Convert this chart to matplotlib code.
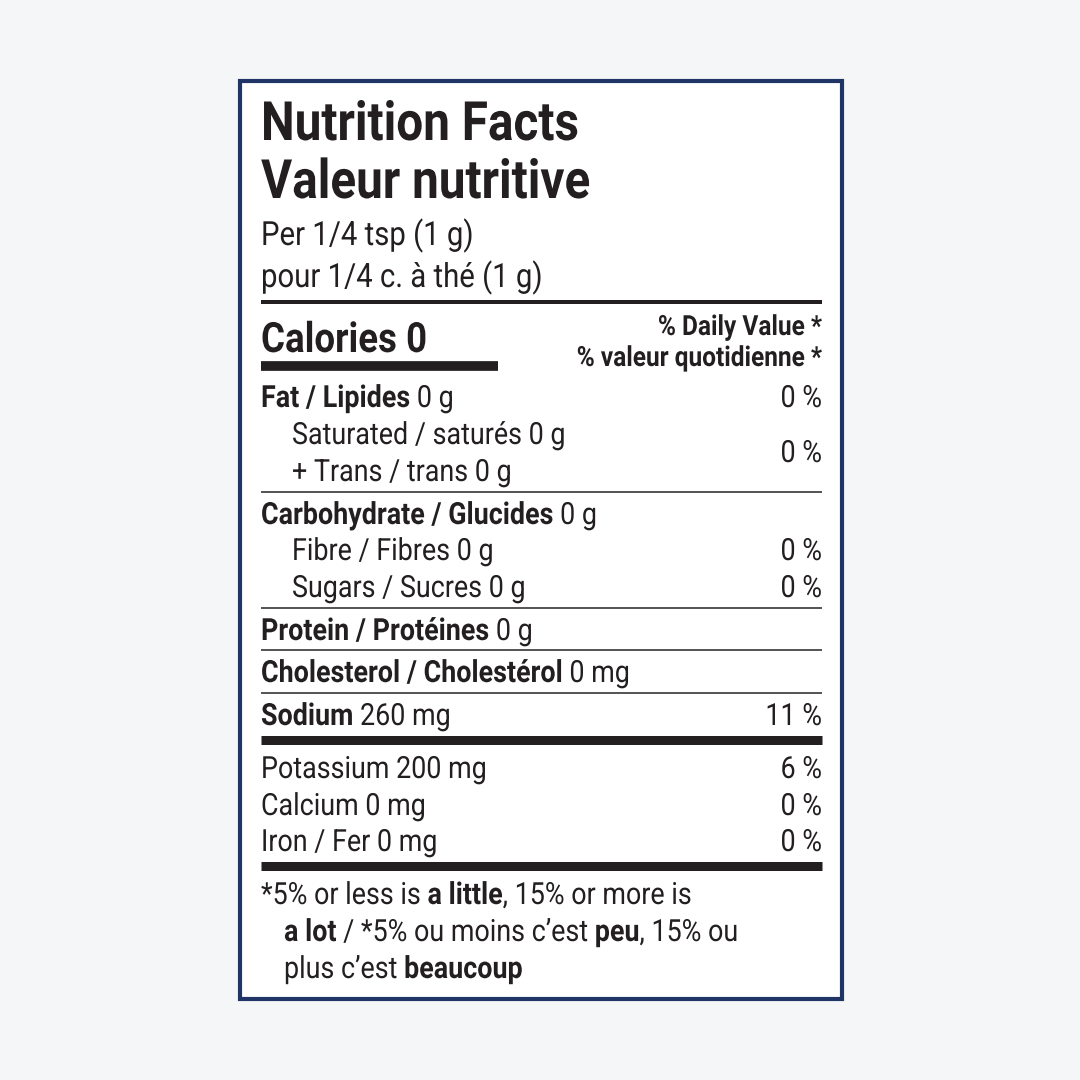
import matplotlib
matplotlib.use("Agg")
import matplotlib.pyplot as plt
from matplotlib.font_manager import FontProperties
from matplotlib.patches import PathPatch
from matplotlib.textpath import TextPath, TextToPath
from matplotlib.transforms import Affine2D

FONT = ["Roboto", "DejaVu Sans"]
SX = 0.88  # horizontal squeeze to mimic the condensed label face

# (runs, daily value, indent, baseline y)
rows = [
    ([("Fat / Lipides", True), (" 0 g", False)], "0 %", 0, 407),
    ([("Saturated / saturés 0 g", False)], None, 1, 444),
    ([("+ Trans / trans 0 g", False)], None, 1, 481),
    ([("Carbohydrate / Glucides", True), (" 0 g", False)], None, 0, 524),
    ([("Fibre / Fibres 0 g", False)], "0 %", 1, 560),
    ([("Sugars / Sucres 0 g", False)], "0 %", 1, 597),
    ([("Protein / Protéines", True), (" 0 g", False)], None, 0, 640),
    ([("Cholesterol / Cholestérol", True), (" 0 mg", False)], None, 0, 682),
    ([("Sodium", True), (" 260 mg", False)], "11 %", 0, 725),
    ([("Potassium 200 mg", False)], "6 %", 0, 778),
    ([("Calcium 0 mg", False)], "0 %", 0, 815),
    ([("Iron / Fer 0 mg", False)], "0 %", 0, 851),
]
sat_trans_dv = ("0 %", 462)
# (y, thickness px)
rules = [(302, 4), (492, 1.5), (608, 1.5), (650, 1.5), (693, 1.5), (740, 9), (866, 9)]
footnote = [
    (261, 904, [("*5% or less is ", False), ("a little", True), (", 15% or more is", False)]),
    (284, 941, [("a lot", True), (" / *5% ou moins c’est ", False), ("peu", True), (", 15% ou", False)]),
    (284, 978, [("plus c’est ", False), ("beaucoup", True)]),
]

fig = plt.figure(figsize=(10.8, 10.8), dpi=100, facecolor="#f5f6f8")
ax = fig.add_axes([0, 0, 1, 1])
ax.set_xlim(0, 1080)
ax.set_ylim(1080, 0)
ax.axis("off")

ax.add_patch(plt.Rectangle((240, 81), 602, 918, facecolor="white", edgecolor="#1f3566", lw=3))

L, R = 261, 822
BODY = 22
INK = "#231f20"
t2p = TextToPath()


def draw(x, y, s, size, bold=False, ha="left"):
    px = size * 100 / 72
    prop = FontProperties(family=FONT, weight="bold" if bold else "normal", size=px)
    w = t2p.get_text_width_height_descent(s, prop, ismath=False)[0] * SX
    if ha == "right":
        x -= w
    path = TextPath((0, 0), s, prop=prop)
    tr = Affine2D().scale(SX, -1).translate(x, y) + ax.transData
    ax.add_patch(PathPatch(path, transform=tr, facecolor=INK, edgecolor="none"))
    return w


def runs_at(x, y, runs, size=BODY):
    for s, bold in runs:
        x += draw(x, y, s, size, bold)


draw(L, 140, "Nutrition Facts", 39, True)
draw(L, 198, "Valeur nutritive", 39, True)
draw(L, 245, "Per 1/4 tsp (1 g)", 24)
draw(L, 287, "pour 1/4 c. à thé (1 g)", 24)
draw(L, 352, "Calories 0", 30, True)
ax.plot([L, 498], [366, 366], color=INK, lw=7, solid_capstyle="butt")
draw(R, 335, "% Daily Value *", 20, True, ha="right")
draw(R, 366, "% valeur quotidienne *", 20, True, ha="right")

for y, lw in rules:
    ax.plot([L, R], [y, y], color=INK, lw=lw * 0.72, solid_capstyle="butt")

for runs, dv, indent, y in rows:
    runs_at(L + 31 * indent, y, runs)
    if dv:
        draw(R, y, dv, BODY, ha="right")
draw(R, sat_trans_dv[1], sat_trans_dv[0], BODY, ha="right")

for x, y, runs in footnote:
    runs_at(x, y, runs)

fig.savefig("out.png", dpi=100, facecolor=fig.get_facecolor())
